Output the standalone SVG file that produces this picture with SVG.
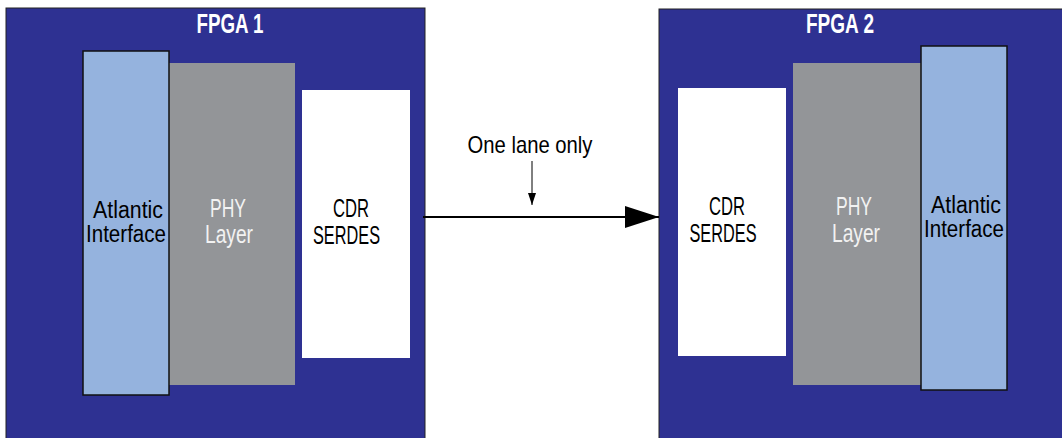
<svg xmlns="http://www.w3.org/2000/svg" width="1062" height="438" viewBox="0 0 1062 438">
<defs>
<style>
.fpga{fill:#2E3192;stroke:#222;stroke-width:1}
.atl{fill:#95B3DE;stroke:#111;stroke-width:1.5}
.phy{fill:#939598}
.cdr{fill:#ffffff}
text{font-family:"Liberation Sans Narrow","Liberation Sans",sans-serif;text-anchor:middle}
.t{font-size:25px;fill:#000}
.a{font-size:23px;fill:#000}
.w{font-size:25px;fill:#f2f2f2}
.title{font-size:27px;font-weight:bold;fill:#fff}
.lbl{font-size:24px;fill:#000}
</style>
<marker id="big" markerWidth="34" markerHeight="22" refX="34" refY="11" orient="auto" markerUnits="userSpaceOnUse">
<path d="M0,0 L34,11 L0,22 Z" fill="#000"/>
</marker>
<marker id="small" markerWidth="12" markerHeight="8" refX="12" refY="4" orient="auto" markerUnits="userSpaceOnUse">
<path d="M0,0 L12,4 L0,8 Z" fill="#000"/>
</marker>
</defs>
<g id="fpga1">
<rect class="fpga" x="6" y="8" width="419" height="440"/>
<text class="title" x="230" y="33" textLength="67" lengthAdjust="spacingAndGlyphs">FPGA 1</text>
</g>
<g id="fpga2">
<rect class="fpga" x="659" y="9" width="410" height="440"/>
<text class="title" x="840" y="33" textLength="68" lengthAdjust="spacingAndGlyphs">FPGA 2</text>
</g>
<g id="phy1">
<rect class="phy" x="169" y="63" width="126" height="322"/>
<text class="w" x="228" y="217" textLength="36" lengthAdjust="spacingAndGlyphs">PHY</text>
<text class="w" x="229" y="243" textLength="48" lengthAdjust="spacingAndGlyphs">Layer</text>
</g>
<g id="atlantic1">
<rect class="atl" x="83" y="51" width="86" height="344"/>
<text class="a" x="128" y="218" textLength="70" lengthAdjust="spacingAndGlyphs">Atlantic</text>
<text class="a" x="126" y="242" textLength="80" lengthAdjust="spacingAndGlyphs">Interface</text>
</g>
<g id="cdr1">
<rect class="cdr" x="302" y="90" width="108" height="268"/>
<text class="t" x="351" y="217" textLength="36" lengthAdjust="spacingAndGlyphs">CDR</text>
<text class="t" x="346.5" y="244" textLength="67" lengthAdjust="spacingAndGlyphs">SERDES</text>
</g>
<g id="cdr2">
<rect class="cdr" x="678" y="88" width="108" height="268"/>
<text class="t" x="727" y="215" textLength="36" lengthAdjust="spacingAndGlyphs">CDR</text>
<text class="t" x="723" y="242" textLength="67" lengthAdjust="spacingAndGlyphs">SERDES</text>
</g>
<g id="phy2">
<rect class="phy" x="793" y="63" width="128" height="322"/>
<text class="w" x="854" y="215" textLength="36" lengthAdjust="spacingAndGlyphs">PHY</text>
<text class="w" x="856" y="242" textLength="48" lengthAdjust="spacingAndGlyphs">Layer</text>
</g>
<g id="atlantic2">
<rect class="atl" x="921" y="46" width="86" height="344"/>
<text class="a" x="966" y="213" textLength="70" lengthAdjust="spacingAndGlyphs">Atlantic</text>
<text class="a" x="964" y="237" textLength="80" lengthAdjust="spacingAndGlyphs">Interface</text>
</g>
<g id="connectors">
<line x1="423" y1="217" x2="659" y2="217" stroke="#000" stroke-width="2" marker-end="url(#big)"/>
<line x1="532" y1="161" x2="532" y2="205" stroke="#000" stroke-width="1" marker-end="url(#small)"/>
<text class="lbl" x="530" y="153" textLength="125" lengthAdjust="spacingAndGlyphs">One lane only</text>
</g>
</svg>
